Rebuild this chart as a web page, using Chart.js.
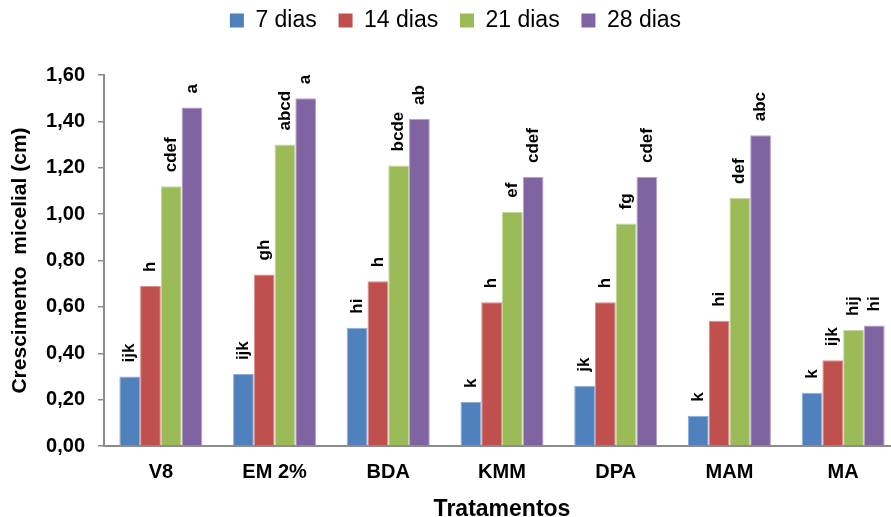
<!DOCTYPE html>
<html>
<head>
<meta charset="utf-8">
<script src="https://cdn.jsdelivr.net/npm/chart.js@4/dist/chart.umd.min.js"></script>
<style>
  body { margin: 0; background: #fff; }
  #wrap { width: 891px; height: 517px; position: relative; }
</style>
</head>
<body>
<div id="wrap"><canvas id="chart"></canvas></div>
<script>
// categories and series
const categories = ['V8', 'EM 2%', 'BDA', 'KMM', 'DPA', 'MAM', 'MA'];
const seriesNames = ['7 dias', '14 dias', '21 dias', '28 dias'];

const dias7 = [0.30, 0.31, 0.51, 0.19, 0.26, 0.13, 0.23];
const dias14 = [0.69, 0.74, 0.71, 0.62, 0.62, 0.54, 0.37];
const dias21 = [1.12, 1.30, 1.21, 1.01, 0.96, 1.07, 0.50];
const dias28 = [1.46, 1.50, 1.41, 1.16, 1.16, 1.34, 0.52];

// letters of the mean comparison test, drawn above each bar
const letters7 = ['ijk', 'ijk', 'hi', 'k', 'jk', 'k', 'k'];
const letters14 = ['h', 'gh', 'h', 'h', 'h', 'hi', 'ijk'];
const letters21 = ['cdef', 'abcd', 'bcde', 'ef', 'fg', 'def', 'hij'];
const letters28 = ['a', 'a', 'ab', 'cdef', 'cdef', 'abc', 'hi'];

const yTickLabels = ['0,00', '0,20', '0,40', '0,60', '0,80', '1,00', '1,20', '1,40', '1,60'];

const colors = ['#4F81BD', '#C0504D', '#9BBB59', '#8064A2'];
const edgeColors = ['#8EAEDA', '#DC8C8A', '#C3D89A', '#B3A2CC'];

const allValues = [dias7, dias14, dias21, dias28];
const allLetters = [letters7, letters14, letters21, letters28];

const FONT = '"Liberation Sans", Arial, sans-serif';

// fixed legend height so the plot starts where it does in the picture,
// and nudge it a bit right like the original
const legendHeight = {
    id: 'legendHeight',
    beforeInit(chart) {
        const legend = chart.legend;
        const fit = legend.fit;
        legend.fit = function () {
            fit.call(this);
            this.height = 75;
        };
        const draw = legend.draw;
        legend.draw = function () {
            this.ctx.save();
            this.ctx.translate(10, 0);
            draw.call(this);
            this.ctx.restore();
        };
    }
};

// the original plot runs a little past the right edge of the picture
const plotRight = {
    id: 'plotRight',
    afterLayout(chart) {
        const x = chart.scales.x;
        x.right = 900;
        x.width = x.right - x.left;
        x.configure();
        chart.chartArea.right = 900;
        chart.chartArea.width = 900 - chart.chartArea.left;
    }
};

// rotated letters above the bars
const barLetters = {
    id: 'barLetters',
    afterDatasetsDraw(chart) {
        const ctx = chart.ctx;
        ctx.save();
        ctx.font = 'bold 17px ' + FONT;
        ctx.fillStyle = '#000';
        ctx.textAlign = 'left';
        ctx.textBaseline = 'middle';
        chart.data.datasets.forEach((ds, di) => {
            const meta = chart.getDatasetMeta(di);
            meta.data.forEach((bar, i) => {
                ctx.save();
                ctx.translate(bar.x, bar.y - 14);
                ctx.rotate(-Math.PI / 2);
                ctx.fillText(allLetters[di][i], 0, 0);
                ctx.restore();
            });
        });
        ctx.restore();
    }
};

const datasets = seriesNames.map((name, i) => ({
    label: name,
    data: allValues[i],
    backgroundColor: colors[i],
    borderColor: edgeColors[i],
    borderWidth: 1,
    categoryPercentage: 0.73,
    barPercentage: 1
}));

const baseLabels = Chart.defaults.plugins.legend.labels.generateLabels;

new Chart(document.getElementById('chart'), {
    type: 'bar',
    data: { labels: categories, datasets: datasets },
    options: {
        responsive: true,
        maintainAspectRatio: false,
        animation: false,
        layout: { padding: 0 },
        plugins: {
            tooltip: { enabled: false },
            legend: {
                position: 'top',
                labels: {
                    boxWidth: 14,
                    boxHeight: 14,
                    padding: 9,
                    color: '#000',
                    font: { family: FONT, size: 23 },
                    generateLabels(chart) {
                        const items = baseLabels(chart);
                        items.forEach((it, i) => {
                            it.lineWidth = 0;
                            if (i < items.length - 1) it.text = it.text + '  ';
                        });
                        return items;
                    }
                }
            }
        },
        scales: {
            x: {
                afterFit(scale) { scale.height = 71; },
                grid: { display: false },
                border: { display: true, color: '#8C8C8C', width: 2 },
                ticks: {
                    padding: 6,
                    color: '#000',
                    font: { family: FONT, size: 20, weight: 'bold' }
                },
                title: {
                    display: true,
                    text: 'Tratamentos',
                    color: '#000',
                    padding: { top: 0, bottom: -6 },
                    font: { family: FONT, size: 23, weight: 'bold' }
                }
            },
            y: {
                min: 0,
                max: 1.6,
                afterFit(scale) { scale.width = 104; },
                grid: {
                    display: true,
                    drawOnChartArea: false,
                    drawTicks: true,
                    tickLength: 6,
                    color: '#8C8C8C',
                    lineWidth: 1.5
                },
                border: { display: true, color: '#8C8C8C', width: 2 },
                ticks: {
                    stepSize: 0.2,
                    padding: 13,
                    color: '#000',
                    font: { family: FONT, size: 20, weight: 'bold' },
                    callback: (value, index) => yTickLabels[index]
                },
                title: {
                    display: true,
                    text: 'Crescimento  micelial (cm)',
                    color: '#000',
                    padding: { top: 8, bottom: 0 },
                    font: { family: FONT, size: 21, weight: 'bold' }
                }
            }
        }
    },
    plugins: [legendHeight, plotRight, barLetters]
});
</script>
</body>
</html>
